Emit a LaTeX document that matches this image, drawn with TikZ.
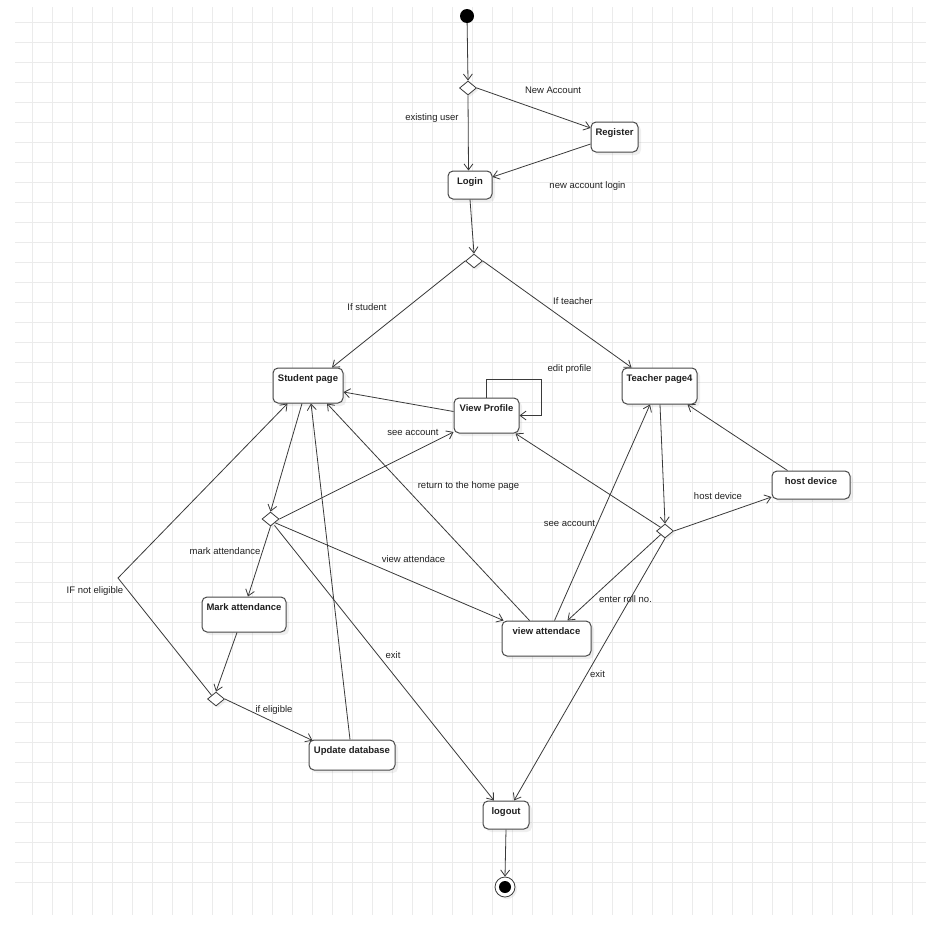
\documentclass[tikz,border=0pt]{standalone}
\usepackage{fontspec}
\setmainfont{Liberation Sans}
\usetikzlibrary{arrows.meta,shapes.geometric,shadows,calc}
\definecolor{gridc}{HTML}{EBEBEB}
\definecolor{edgec}{HTML}{3A3A3A}
\definecolor{framec}{HTML}{484848}
\definecolor{inkc}{HTML}{202020}
\begin{document}
\begin{tikzpicture}[x=1pt,y=-1pt,
  gridline/.style={draw=gridc, line width=1pt},
  state/.style={rectangle, rounded corners=5pt, draw=framec, line width=1pt,
    fill=white, inner xsep=0pt, inner ysep=0pt, text height=13pt,
    font=\fontsize{9.5}{11}\selectfont\bfseries, text=inkc,
    drop shadow={shadow xshift=3pt, shadow yshift=-3pt, opacity=0.12}},
  decision/.style={diamond, draw=edgec, line width=0.8pt, fill=white,
    minimum width=17pt, minimum height=14pt, inner sep=0pt,
    drop shadow={shadow xshift=2pt, shadow yshift=-2pt, opacity=0.12}},
  flow/.style={draw=edgec, line width=0.8pt, -{Straight Barb[length=6pt,width=9pt]}},
  tag/.style={font=\fontsize{9.5}{11}\selectfont, text=inkc, inner sep=0pt}
]
% canvas and background grid
\fill[white] (0,0) rectangle (939,927);
\useasboundingbox (0,0) rectangle (939,927);
\foreach \gx in {32,52,...,912} \draw[gridline] (\gx,7) -- (\gx,915);
\foreach \gy in {22,42,...,882} \draw[gridline] (15,\gy) -- (926,\gy);

% initial and final states
\node[circle, fill=black, minimum size=14pt, inner sep=0pt] (start) at (467,16) {};
\node[circle, draw=edgec, line width=0.8pt, fill=white, minimum size=20pt, inner sep=0pt,
  drop shadow={shadow xshift=2pt, shadow yshift=-2pt, opacity=0.12},
  path picture={\fill[black] (path picture bounding box.center) circle[radius=6pt];}]
  (final) at (505,887) {};

% decisions
\node[decision] (d1) at (468,88) {};
\node[decision] (d2) at (474,261) {};
\node[decision] (d3) at (270.5,519) {};
\node[decision] (d4) at (216,699) {};
\node[decision] (d5) at (665,531) {};

% states
\node[state, minimum width=47pt, text depth=17pt] (register) at (614.5,137) {Register};
\node[state, minimum width=44pt, text depth=15pt] (login) at (470,185) {Login};
\node[state, minimum width=70pt, text depth=22pt] (student) at (308,385.5) {Student page};
\node[state, minimum width=65pt, text depth=22pt] (viewprofile) at (486.5,415.5) {View Profile};
\node[state, minimum width=75pt, text depth=23pt] (teacher) at (659.5,386) {Teacher page4};
\node[state, minimum width=78pt, text depth=15pt] (host) at (811,485) {host device};
\node[state, minimum width=84pt, text depth=22pt] (mark) at (244,614.5) {Mark attendance};
\node[state, minimum width=89pt, text depth=22pt] (viewatt) at (546.5,638.5) {view attendace};
\node[state, minimum width=86pt, text depth=17pt] (update) at (352,755) {Update database};
\node[state, minimum width=46pt, text depth=15pt] (logout) at (506,815) {logout};

\coordinate (bend) at (118,578);

% transitions
\draw[flow] (start) -- (d1.north);
\draw[flow] (d1.east) -- ($(register.west)+(0,-9)$);
\draw[flow] (d1.south) -- ($(login.north)+(-1.5,0)$);
\draw[flow] ($(register.west)+(0,7)$) -- ($(login.east)+(0,-8)$);
\draw[flow] (login.south) -- (d2.north);
\draw[flow] (d2.west) -- ($(student.north)+(24,0)$);
\draw[flow] (d2.east) -- ($(teacher.north)+(-28,0)$);
\draw[flow] ($(viewprofile.west)+(0,-4)$) -- ($(student.east)+(0,6.5)$);
\draw[flow] (viewprofile.north) |- ($(viewprofile.north east)+(22,-18)$) |- (viewprofile.east);
\draw[flow] ($(student.south)+(-6,0)$) -- (d3.north);
\draw[flow] (d3.east) -- ($(viewprofile.west)+(0,16.5)$);
\draw[flow] (d3.south) -- ($(mark.north)+(4,0)$);
\draw[flow] (d3.south east) -- ($(viewatt.north west)+(2,0)$);
\draw[flow] ($(d3.south)+(4,-1)$) -- ($(logout.north)+(-12,0)$);
\draw[flow] ($(mark.south)+(-7,0)$) -- (d4.north);
\draw[flow] (d4.east) -- ($(update.north west)+(4,1)$);
\draw[flow] (d4.north west) -- (bend) -- ($(student.south west)+(15,0)$);
\draw[flow] ($(update.north)+(-2,0)$) -- ($(student.south)+(3,0)$);
\draw[flow] ($(viewatt.north)+(-17,0)$) -- ($(student.south)+(19,0)$);
\draw[flow] ($(viewatt.north)+(8,0)$) -- ($(teacher.south)+(-9.5,0)$);
\draw[flow] ($(teacher.south)+(0.5,0)$) -- (d5.north);
\draw[flow] (d5.east) -- ($(host.west)+(0,12)$);
\draw[flow] ($(host.north west)+(16,0)$) -- ($(teacher.south east)+(-10,0)$);
\draw[flow] (d5.north west) -- ($(viewprofile.south east)+(-4,0)$);
\draw[flow] (d5.south west) -- ($(viewatt.north)+(21,0)$);
\draw[flow] (d5.south) -- ($(logout.north)+(8,0)$);
\draw[flow] (logout.south) -- (final.north);

% transition labels
\node[tag] (tNew) at (553,90.5) {New Account};
\node[tag] (tExisting) at (432,118) {existing user};
\node[tag] (tNewLogin) at (587.5,186.5) {new account login};
\node[tag] (tStudent) at (367,307) {If student};
\node[tag] (tTeacher) at (573,301) {If teacher};
\node[tag] (tEdit) at (569.5,369) {edit profile};
\node[tag] (tSeeS) at (413,432.5) {see account};
\node[tag] (tReturn) at (468.5,486) {return to the home page};
\node[tag] (tMark) at (225,551.5) {mark attendance};
\node[tag] (tViewS) at (413.5,559) {view attendace};
\node[tag] (tExitS) at (393,655) {exit};
\node[tag] (tElig) at (274,710) {if eligible};
\node[tag] (tNotElig) at (95,591) {IF not eligible};
\node[tag] (tSeeT) at (569.5,523) {see account};
\node[tag] (tHost) at (718,496.5) {host device};
\node[tag] (tRoll) at (625.5,599) {enter roll no.};
\node[tag] (tExitT) at (597.5,674) {exit};
\end{tikzpicture}
\end{document}
